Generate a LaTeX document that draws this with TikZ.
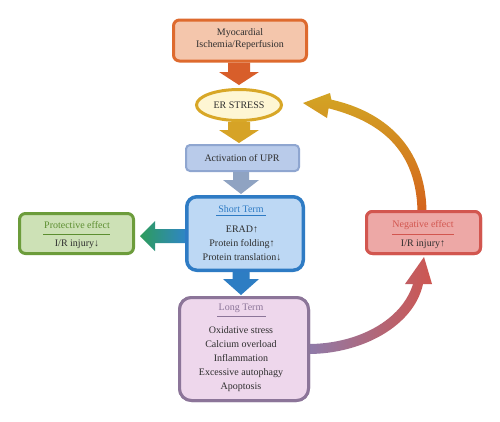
\documentclass[tikz,border=0pt]{standalone}
\usepackage{fontspec}
\setmainfont{Liberation Serif}
\usetikzlibrary{shapes.geometric,calc}
\definecolor{myoF}{HTML}{F4C6AC}
\definecolor{myoD}{HTML}{DE6A2E}
\definecolor{erF}{HTML}{FEF6D3}
\definecolor{erD}{HTML}{D8A727}
\definecolor{uprF}{HTML}{B9CBEA}
\definecolor{uprD}{HTML}{8FA6D0}
\definecolor{stF}{HTML}{BDD8F4}
\definecolor{stD}{HTML}{2E7BC4}
\definecolor{prF}{HTML}{CDE1B6}
\definecolor{prD}{HTML}{6C9C3B}
\definecolor{prT}{HTML}{5C8E30}
\definecolor{ltF}{HTML}{EED7EC}
\definecolor{ltD}{HTML}{8C7599}
\definecolor{ngF}{HTML}{EDA8A6}
\definecolor{ngD}{HTML}{D2564F}
\definecolor{txt}{HTML}{2E2E2E}
\definecolor{arA}{HTML}{D85E2A}
\definecolor{arB}{HTML}{D6A326}
\definecolor{arC}{HTML}{8FA3C2}
\definecolor{arD}{HTML}{2D7DC3}
\definecolor{grL}{HTML}{2E9C5C}
\definecolor{grR}{HTML}{2F86C4}
\definecolor{cvP}{HTML}{8E7BAA}
\definecolor{cvR}{HTML}{CE5650}
\definecolor{cvO}{HTML}{D4621C}
\definecolor{cvG}{HTML}{D3A524}
\newcommand\vblock[6]{%
  \path[#6] let \p1=(#1), \p2=(#2) in
    (\x2-#3pt,\y1) -- (\x2+#3pt,\y1) -- (\x2+#3pt,\y2+#5pt) -- (\x2+#4pt,\y2+#5pt)
    -- (\x2,\y2) -- (\x2-#4pt,\y2+#5pt) -- (\x2-#3pt,\y2+#5pt) -- cycle;}
\newcommand\hblock[6]{%
  \path[#6] let \p1=(#1), \p2=(#2) in
    (\x1,\y2-#3pt) -- (\x1,\y2+#3pt) -- (\x2+#5pt,\y2+#3pt) -- (\x2+#5pt,\y2+#4pt)
    -- (\x2,\y2) -- (\x2+#5pt,\y2-#4pt) -- (\x2+#5pt,\y2-#3pt) -- cycle;}
\tikzset{
  box/.style={draw, rectangle, inner sep=0pt},
  body/.style={text=txt, align=center, font=\fontsize{10}{14.2}\selectfont, inner sep=0pt},
  ttl/.style={align=center, font=\fontsize{10}{12}\selectfont, inner sep=0pt},
}
\begin{document}
\begin{tikzpicture}[x=1pt,y=-1pt]
\useasboundingbox (0,0) rectangle (500,421);
\fill[white] (0,0) rectangle (500,421);

% boxes
\node[box, fill=myoF, draw=myoD, line width=3pt, rounded corners=6pt, minimum width=133pt, minimum height=41pt] (myo) at (240,40.5) {};
\node[draw=erD, fill=erF, ellipse, line width=3pt, minimum width=85pt, minimum height=31pt, inner sep=0pt] (er) at (239,105) {};
\node[box, fill=uprF, draw=uprD, line width=2pt, rounded corners=4pt, minimum width=113pt, minimum height=26pt] (upr) at (242.5,158) {};
\node[box, fill=stF, draw=stD, line width=3.5pt, rounded corners=10pt, minimum width=116.5pt, minimum height=73.5pt] (st) at (245,233.5) {};
\node[box, fill=prF, draw=prD, line width=3pt, rounded corners=6pt, minimum width=114pt, minimum height=40pt] (pr) at (76.5,233.5) {};
\node[box, fill=ltF, draw=ltD, line width=3pt, rounded corners=12pt, minimum width=129pt, minimum height=103pt] (lt) at (244,349) {};
\node[box, fill=ngF, draw=ngD, line width=3pt, rounded corners=6pt, minimum width=114pt, minimum height=42pt] (ng) at (423.5,232.5) {};

% curved arrows
\shade[left color=cvP, right color=cvR]
  ($(lt.east)+(-2,-5)$) .. controls (358,344) and (402,320) .. (413,284)
  -- (405,284) -- ($(ng.south)+(0.5,2)$) -- (432,284) -- (423,284)
  .. controls (414,326) and (362,354) .. ($(lt.east)+(-2,5)$) -- cycle;
\shade[top color=cvG, bottom color=cvO]
  ($(ng.north)+(3,2)$) .. controls (425.5,138) and (374,109) .. (331.4,99.7)
  -- (330,93) -- ($(er.east)+(20,-2)$) -- (327,118) -- (328.6,108.3)
  .. controls (370,119) and (416.5,142) .. ($(ng.north)+(-6,2)$) -- cycle;

% redraw box borders over curve ends
\node[box, fill=ltF, draw=ltD, line width=3pt, rounded corners=12pt, minimum width=129pt, minimum height=103pt] at (lt) {};
\node[box, fill=ngF, draw=ngD, line width=3pt, rounded corners=6pt, minimum width=114pt, minimum height=42pt] at (ng) {};

% block arrows
\coordinate (t1) at (239,85);
\coordinate (t2) at (239,143);
\coordinate (t3) at (241,194);
\coordinate (t4) at (241,295);
\coordinate (t5) at (140,236);
\vblock{myo.south}{t1}{11}{20}{13}{fill=arA}
\vblock{er.south}{t2}{11}{20}{13}{fill=arB}
\vblock{upr.south}{t3}{8}{18}{14}{fill=arC}
\vblock{st.south}{t4}{8.5}{18}{16}{fill=arD}
\hblock{st.west}{t5}{7}{15}{15}{left color=grL, right color=grR}

% texts
\node[body, font=\fontsize{10}{12}\selectfont] (myot) at (240,39.5) {Myocardial\\Ischemia/Reperfusion};
\node[body] (ert) at (239,105) {ER STRESS};
\node[body] (uprt) at (242,158) {Activation of UPR};

\node[ttl, text=stD] (stt) at (241,209) {Short Term};
\draw[stD, line width=0.6pt] ($(stt.south)+(-25,3)$) -- ($(stt.south)+(25,3)$);
\node[body] (stb) at (242,243.5) {ERAD↑\\Protein folding↑\\Protein translation↓};

\node[ttl, text=prT] (prt) at (77,225) {Protective effect};
\draw[prT, line width=0.6pt] (43,234) -- (110,234);
\node[body] (prb) at (77,244) {I/R injury↓};

\node[ttl, text=ltD] (ltt) at (241,308) {Long Term};
\draw[ltD, line width=0.6pt] ($(ltt.south)+(-24,4)$) -- ($(ltt.south)+(25,4)$);
\node[body, font=\fontsize{10}{14}\selectfont] (ltb) at (241,359) {Oxidative stress\\Calcium overload\\Inflammation\\Excessive autophagy\\Apoptosis};

\node[ttl, text=ngD] (ngt) at (423,225) {Negative effect};
\draw[ngD, line width=0.6pt] (392,234) -- (454,234);
\node[body] (ngb) at (423,244) {I/R injury↑};
\end{tikzpicture}
\end{document}
